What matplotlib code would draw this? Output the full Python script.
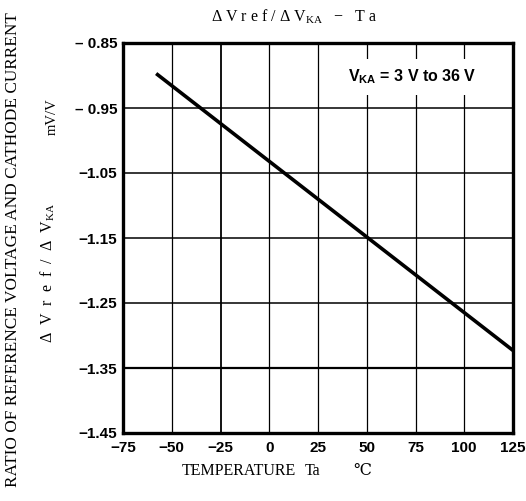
import matplotlib
matplotlib.use("Agg")
import matplotlib.pyplot as plt
from matplotlib.ticker import FixedLocator, FixedFormatter

plt.rcParams['mathtext.fontset'] = 'custom'
plt.rcParams['mathtext.rm'] = 'Liberation Serif'
plt.rcParams['mathtext.it'] = 'Liberation Serif'
plt.rcParams['mathtext.bf'] = 'Liberation Sans:bold'

# Data
temperature = [-58, 125]
ratio = [-0.897, -1.323]

x_ticks = [-75, -50, -25, 0, 25, 50, 75, 100, 125]
x_tick_labels = ["\u221275", "\u221250", "\u221225", "0", "25", "50", "75", "100", "125"]
y_ticks = [-0.85, -0.95, -1.05, -1.15, -1.25, -1.35, -1.45]
y_tick_labels = ["\u2013 0.85", "\u2013 0.95", "\u22121.05", "\u22121.15", "\u22121.25", "\u22121.35", "\u22121.45"]

W, H = 526, 501
fig = plt.figure(figsize=(W / 100, H / 100), dpi=100)
ax = fig.add_axes([123 / W, 1 - 433 / H, (513 - 123) / W, (433 - 43) / H])

ax.set_xlim(-75, 125)
ax.set_ylim(-1.45, -0.85)

for xv in x_ticks[1:-1]:
    ax.axvline(xv, color='black', lw=0.9 if xv != -25 else 1.3, zorder=1)
for yv in y_ticks[1:-1]:
    ax.axhline(yv, color='black', lw=1.1 if yv != -1.35 else 1.6, zorder=1)

ax.plot(temperature, ratio, color='black', lw=2.6, solid_capstyle='butt', zorder=3)

for s in ax.spines.values():
    s.set_linewidth(2.4)
    s.set_zorder(5)

ax.xaxis.set_major_locator(FixedLocator(x_ticks))
ax.xaxis.set_major_formatter(FixedFormatter(x_tick_labels))
ax.yaxis.set_major_locator(FixedLocator(y_ticks))
ax.yaxis.set_major_formatter(FixedFormatter(y_tick_labels))
ax.tick_params(axis='both', length=0)
ax.tick_params(axis='x', pad=6)
ax.tick_params(axis='y', pad=4)
for lab in ax.get_xticklabels() + ax.get_yticklabels():
    lab.set_fontfamily('Liberation Sans')
    lab.set_fontweight('bold')
    lab.set_fontsize(11)

ax.text(0.741, 0.913, r"$\mathbf{V_{KA}}$ = 3 V to 36 V", transform=ax.transAxes,
        ha='center', va='center', fontsize=11.5, fontweight='bold', family='Liberation Sans',
        bbox=dict(boxstyle='square,pad=0.55', fc='white', ec='none'), zorder=4)

serif = ['Liberation Serif', 'DejaVu Serif']
en = "\u2002"
fig.text(294 / W, 1 - 17 / H,
         r"$\Delta$ V r e f / $\Delta$ V$_{\mathrm{KA}}$   " + "\u2212" + "   T a",
         ha='center', va='center', fontsize=11.5, family=serif)
fig.text(182 / W, 1 - 471 / H, "TEMPERATURE", ha='left', va='center', fontsize=11.5, family=serif)
fig.text(305 / W, 1 - 471 / H, "Ta", ha='left', va='center', fontsize=11.5, family=serif)
fig.text(353 / W, 1 - 471 / H, "\u2103", ha='left', va='center', fontsize=11.5, family=serif)
fig.text(13 / W, 1 - 250 / H, "RATIO OF REFERENCE VOLTAGE AND CATHODE CURRENT",
         ha='center', va='center', rotation=90, fontsize=12.4, family=serif)
fig.text(48 / W, 1 - 273 / H,
         r"$\Delta$" + en + "V" + en + "r" + en + "e" + en + "f" + en + "/" + en + r"$\Delta$" + en + r"V$_{\mathrm{KA}}$",
         ha='center', va='center', rotation=90, fontsize=11.5, family=serif)
fig.text(52 / W, 1 - 117 / H, "mV/V",
         ha='center', va='center', rotation=90, fontsize=10.5, family=serif)

fig.savefig("out.png", dpi=100)
